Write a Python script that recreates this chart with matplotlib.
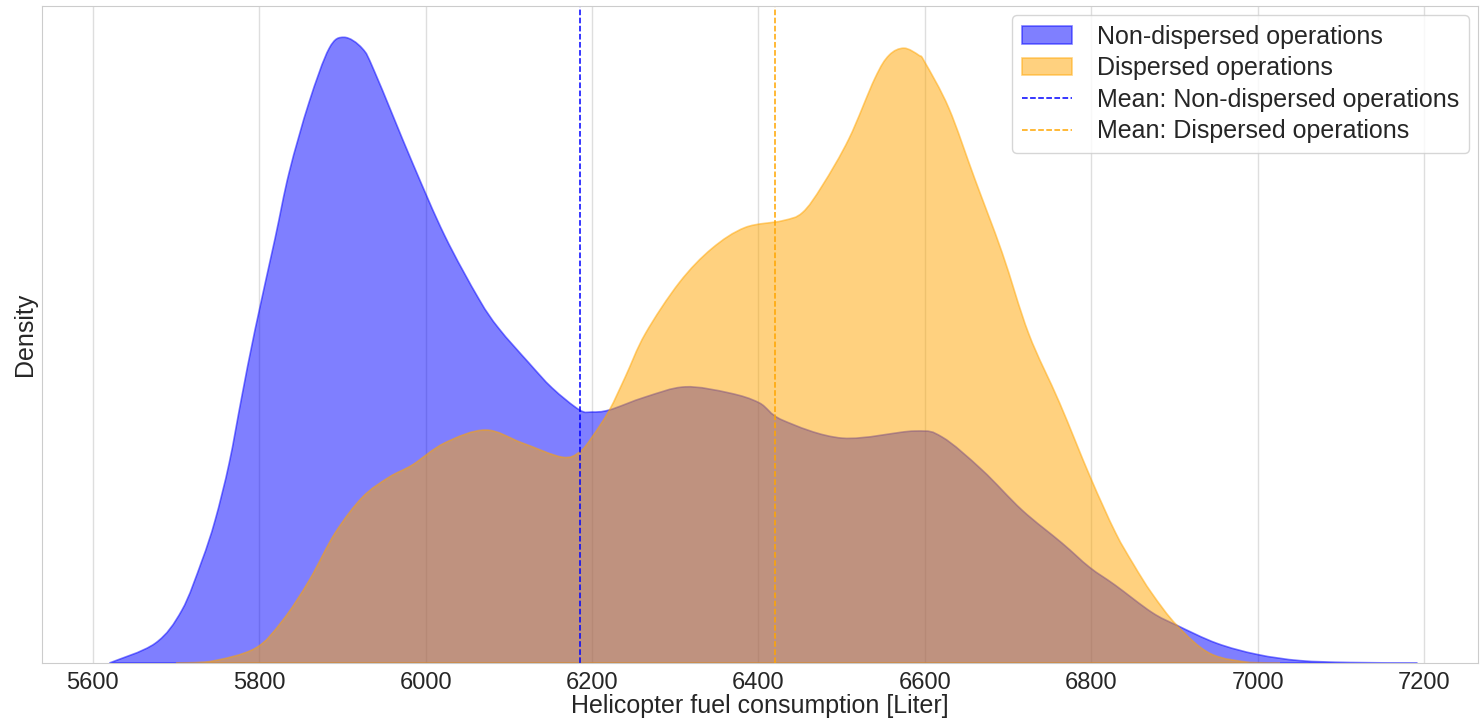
import matplotlib
matplotlib.use("Agg")
import matplotlib.pyplot as plt
from matplotlib.path import Path
from matplotlib.patches import PathPatch
import seaborn as sns

# 燃料消費量 [L] と密度 (×1e-4 /L) を図から読み取った値
fuel_nd = [5620, 5675, 5707, 5731, 5747, 5764, 5779, 5795, 5819, 5836, 5860, 5884,
           5902, 5924, 5939, 5984, 6023, 6064, 6088, 6124, 6152, 6185, 6200, 6221,
           6264, 6312, 6365, 6401, 6429, 6501, 6588, 6621, 6669, 6717, 6765, 6798,
           6829, 6873, 6903, 6951, 7000, 7051, 7111, 7192]
dens_nd = [0.0, 0.58, 1.55, 3.0, 4.2, 5.89, 7.83, 9.81, 12.49, 14.44, 16.51, 18.09,
           18.42, 18.09, 17.39, 14.74, 12.58, 10.72, 9.85, 8.84, 8.1, 7.45, 7.39, 7.45,
           7.83, 8.13, 7.95, 7.66, 7.15, 6.62, 6.83, 6.65, 5.68, 4.50, 3.53, 2.82,
           2.29, 1.49, 1.11, 0.58, 0.25, 0.07, 0.015, 0.0]

fuel_d = [5700, 5740, 5795, 5828, 5860, 5891, 5924, 5956, 5984, 6023, 6072, 6116,
          6164, 6185, 6200, 6221, 6240, 6264, 6305, 6344, 6384, 6429, 6453, 6477,
          6509, 6540, 6557, 6575, 6593, 6600, 6629, 6660, 6693, 6725, 6762, 6799,
          6829, 6851, 6873, 6903, 6943, 6991, 7027]
dens_d = [0.0, 0.04, 0.43, 1.25, 2.43, 3.82, 4.88, 5.47, 5.83, 6.48, 6.86, 6.48,
          6.06, 6.21, 6.65, 7.45, 8.42, 9.69, 11.20, 12.20, 12.82, 13.02, 13.26, 14.06,
          15.44, 17.21, 17.89, 18.10, 17.89, 17.69, 16.33, 14.26, 12.08, 9.69, 7.66, 5.47,
          3.85, 2.9, 2.05, 1.11, 0.28, 0.015, 0.0]

mean_nd = 6185
mean_d = 6420


def density_path(xs, ys):
    # 読み取り点を Catmull-Rom 風のベジェ曲線でつなぎ、底辺で閉じる
    verts = [(xs[0], 0), (xs[0], ys[0])]
    codes = [Path.MOVETO, Path.LINETO]
    n = len(xs)
    for i in range(n - 1):
        x0, y0 = xs[max(i - 1, 0)], ys[max(i - 1, 0)]
        x1, y1 = xs[i], ys[i]
        x2, y2 = xs[i + 1], ys[i + 1]
        x3, y3 = xs[min(i + 2, n - 1)], ys[min(i + 2, n - 1)]
        c1 = (x1 + (x2 - x0) / 6, max(y1 + (y2 - y0) / 6, 0))
        c2 = (x2 - (x3 - x1) / 6, max(y2 - (y3 - y1) / 6, 0))
        verts += [c1, c2, (x2, y2)]
        codes += [Path.CURVE4] * 3
    verts += [(xs[-1], 0), (xs[0], 0)]
    codes += [Path.LINETO, Path.CLOSEPOLY]
    return Path(verts, codes)


sns.set_style("whitegrid")
plt.rcParams["font.family"] = ["Liberation Sans", "DejaVu Sans"]

fig = plt.figure(figsize=(14.81, 7.18), dpi=100)
ax = fig.add_axes([0.0284, 0.0766, 0.9696, 0.915])

ax.add_patch(PathPatch(density_path(fuel_nd, dens_nd), facecolor="blue", edgecolor="blue",
                       alpha=0.5, linewidth=1.2, label="Non-dispersed operations"))
ax.add_patch(PathPatch(density_path(fuel_d, dens_d), facecolor="orange", edgecolor="orange",
                       alpha=0.5, linewidth=1.2, label="Dispersed operations"))
ax.axvline(mean_nd, color="blue", linestyle="--", linewidth=1.1,
           label="Mean: Non-dispersed operations")
ax.axvline(mean_d, color="orange", linestyle="--", linewidth=1.1,
           label="Mean: Dispersed operations")

ax.set_xlim(5539, 7265)
ax.set_ylim(0, max(dens_nd) * 1.05)
ax.set_xticks(range(5600, 7201, 200))
ax.set_yticks([])
ax.tick_params(axis="x", labelsize=17, pad=3)
ax.grid(axis="x", color=".87", linewidth=1)

ax.set_xlabel("Helicopter fuel consumption [Liter]", fontsize=18, labelpad=0)
ax.set_ylabel("Density", fontsize=18, labelpad=4)

ax.legend(loc="upper right", fontsize=18, borderaxespad=0.35, labelspacing=0.3,
          handletextpad=1.0)

plt.savefig("out.png", dpi=100)
plt.close()
